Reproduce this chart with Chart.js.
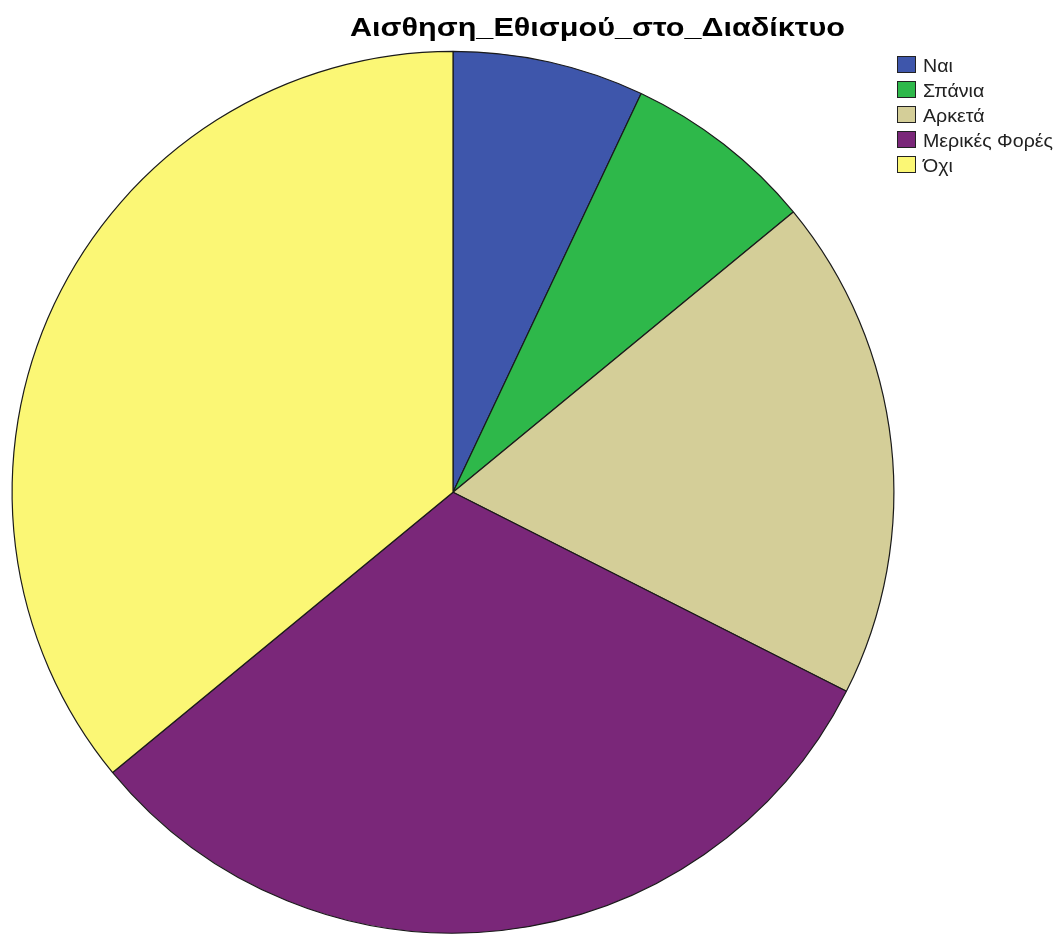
<!DOCTYPE html>
<html>
<head>
<meta charset="utf-8">
<script src="https://cdn.jsdelivr.net/npm/chart.js@4/dist/chart.umd.min.js"></script>
<style>
  html, body { margin: 0; padding: 0; background: #ffffff; }
  #wrap { position: relative; width: 1063px; height: 934px; overflow: hidden; }
  #c { position: absolute; left: 0; top: 0; }
  #title { position: absolute; left: 350px; top: 15px; line-height: 25px; transform-origin: 0 0;
           font-family: "Liberation Sans", Arial, sans-serif; font-weight: bold; font-size: 25px; color: #000; white-space: nowrap; }
  #legend { position: absolute; left: 897px; top: 56px; width: 166px; font-family: "Liberation Sans", Arial, sans-serif; font-size: 18px; color: #222; }
  .item { position: relative; height: 25px; white-space: nowrap; }
  .box { position: absolute; left: 0; top: 0; width: 19px; height: 17px; border: 1px solid #222; box-sizing: border-box; }
  .lab { position: absolute; left: 26px; top: 0px; line-height: 20px; transform-origin: 0 0; }
</style>
</head>
<body>
<div id="wrap">
  <canvas id="c" width="1063" height="934"></canvas>
  <span id="title"></span>
  <div id="legend"></div>
</div>
<script>
const chartTitle = "Αισθηση_Εθισμού_στο_Διαδίκτυο";
const categories = ["Ναι", "Σπάνια", "Αρκετά", "Μερικές Φορές", "Όχι"];
const counts = [8, 8, 21, 36, 41];
const colors = ["#3e56ab", "#2eb84a", "#d4ce98", "#7a2779", "#fbf775"];

const t = document.getElementById("title");
t.textContent = chartTitle;
t.style.transform = "scaleX(" + (495 / t.getBoundingClientRect().width) + ")";

const leg = document.getElementById("legend");
const labs = [];
categories.forEach((cat, i) => {
  const it = document.createElement("div");
  it.className = "item";
  const b = document.createElement("span");
  b.className = "box";
  b.style.background = colors[i];
  const l = document.createElement("span");
  l.className = "lab";
  l.textContent = cat;
  it.appendChild(b); it.appendChild(l);
  leg.appendChild(it);
  labs.push(l);
});
const widest = Math.max(...labs.map(l => l.getBoundingClientRect().width));
const sx = 130 / widest;
labs.forEach(l => { l.style.transform = "scaleX(" + sx + ")"; });

new Chart(document.getElementById("c"), {
  type: "pie",
  data: {
    labels: categories,
    datasets: [{
      data: counts,
      backgroundColor: colors,
      borderColor: "#1a1a1a",
      borderWidth: 1.2,
      borderAlign: "center"
    }]
  },
  options: {
    responsive: false,
    animation: false,
    rotation: 0,
    layout: { padding: { left: 11.5, top: 50.5, right: 168.5, bottom: 0 } },
    plugins: {
      legend: { display: false },
      title: { display: false },
      tooltip: { enabled: false }
    }
  }
});
</script>
</body>
</html>
